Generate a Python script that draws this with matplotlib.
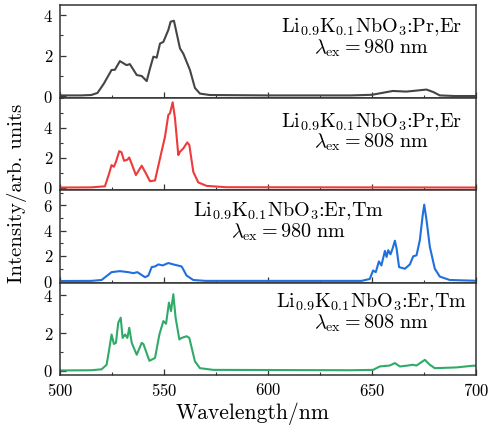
import numpy as np
import matplotlib.pyplot as plt
from matplotlib.ticker import MultipleLocator

# === Style (Computer Modern look) ===
plt.rcParams['font.family'] = 'serif'
plt.rcParams['font.serif'] = ['cmr10']
plt.rcParams['mathtext.fontset'] = 'cm'
plt.rcParams['axes.formatter.use_mathtext'] = True
plt.rcParams['axes.unicode_minus'] = False

# === Data ===
wl_pr_980 = [500, 510, 515, 518, 521, 524.8, 526.4, 528.8, 532, 533.6, 536.9, 539.3, 541.7,
             543.3, 544.9, 546.5, 548.1, 549.7, 552.1, 553.2, 554.8, 557.7, 559.3, 562.5,
             564.9, 567.3, 572, 600, 640, 650, 655.3, 660.1, 666.5, 669.7, 676.3, 679.5,
             682.7, 690, 700]
int_pr_980 = [0.03, 0.03, 0.05, 0.15, 0.6, 1.29, 1.3, 1.73, 1.53, 1.58, 1.04, 0.99, 0.74,
              1.37, 1.95, 1.9, 2.6, 2.68, 3.27, 3.68, 3.73, 2.36, 2.1, 1.29,
              0.4, 0.12, 0.05, 0.03, 0.03, 0.06, 0.16, 0.25, 0.22, 0.25, 0.32, 0.2,
              0.03, 0.0, 0.0]

wl_pr_808 = [500, 515, 521.6, 523.5, 524.8, 525.9, 526.9, 528.5, 529.6, 530.8, 532.4, 533.3,
             536.5, 539.3, 540.9, 543.3, 545.7, 548.1, 550.5, 552.1, 552.9, 554.2, 555.3,
             556.9, 557.7, 559.3, 561.2, 562.2, 564.1, 566.5, 570.5, 580, 700]
int_pr_808 = [0.02, 0.03, 0.1, 0.9, 1.51, 1.4, 1.73, 2.44, 2.36, 1.8, 1.87, 2.02,
              0.85, 1.47, 1.07, 0.44, 0.49, 1.96, 3.4, 4.85, 4.96, 5.69, 4.63,
              2.18, 2.4, 2.62, 3.02, 2.85, 1.07, 0.36, 0.13, 0.04, 0.02]

wl_tm_980 = [500, 515, 520, 524.8, 528.8, 532.8, 535.3, 537.2, 540.9, 542.5, 544.1, 545.7,
             547.3, 549.4, 552.1, 554.5, 558.5, 560.9, 564.1, 570, 645, 649, 650.6, 651.9,
             653.4, 654.6, 656.3, 657.1, 657.9, 659.0, 660.0, 661.1, 661.9, 663.1, 665.9,
             668.3, 669.9, 671.5, 673.1, 674.4, 675.2, 676.3, 677.9, 680.3, 682.7, 687.5,
             700]
int_tm_980 = [0.02, 0.03, 0.1, 0.72, 0.8, 0.72, 0.64, 0.72, 0.32, 0.45, 1.12, 1.17,
              1.33, 1.25, 1.44, 1.33, 1.17, 0.45, 0.1, 0.03, 0.03, 0.18, 0.85, 0.72,
              1.57, 1.25, 2.4, 1.92, 2.45, 2.13, 2.59, 3.2, 2.59, 1.12, 0.99,
              1.33, 1.97, 2.05, 3.25, 5.12, 6.05, 4.85, 2.72, 0.99, 0.37, 0.1,
              0.04]

wl_tm_808 = [500, 515, 520, 522.4, 523.5, 524.8, 525.9, 526.9, 528.0, 529.2, 530.1, 531.3,
             532.4, 533.3, 534.5, 536.9, 539.3, 540.1, 543.0, 545.7, 547.8, 549.7, 551.0,
             552.4, 553.4, 554.5, 555.6, 557.4, 558.5, 560.9, 562.2, 564.9, 567.3, 573.7,
             640, 650.6, 653.8, 658.6, 661.1, 663.5, 666.7, 669.6, 671.5, 675.5, 677.9,
             680.3, 690.7, 698.7, 700]
int_tm_808 = [0.02, 0.03, 0.08, 0.32, 1.03, 1.92, 1.42, 1.48, 2.54, 2.81, 1.74, 1.92,
              1.74, 2.28, 1.48, 0.85, 1.48, 1.42, 0.53, 0.68, 1.92, 2.63, 2.49,
              3.61, 3.16, 4.05, 2.81, 1.66, 1.74, 1.83, 1.74, 0.5, 0.14, 0.05,
              0.03, 0.05, 0.23, 0.28, 0.41, 0.23, 0.27, 0.32, 0.28, 0.58, 0.32,
              0.14, 0.18, 0.27, 0.27]

wavelengths = [wl_pr_980, wl_pr_808, wl_tm_980, wl_tm_808]
intensities = [int_pr_980, int_pr_808, int_tm_980, int_tm_808]
samples = [r"Li$_{0.9}$K$_{0.1}$NbO$_3$:Pr,Er", r"Li$_{0.9}$K$_{0.1}$NbO$_3$:Pr,Er",
           r"Li$_{0.9}$K$_{0.1}$NbO$_3$:Er,Tm", r"Li$_{0.9}$K$_{0.1}$NbO$_3$:Er,Tm"]
excitations = [r"$\lambda_{\rm ex} = 980\ {\rm nm}$", r"$\lambda_{\rm ex} = 808\ {\rm nm}$",
               r"$\lambda_{\rm ex} = 980\ {\rm nm}$", r"$\lambda_{\rm ex} = 808\ {\rm nm}$"]
colors = ['#454545', '#ee3a3a', '#1f6fdf', '#30aa68']
ylims = [(-0.08, 4.5), (-0.15, 6.0), (-0.1, 7.2), (-0.22, 4.67)]
text_x = [0.75, 0.75, 0.55, 0.749]
text_y = [(0.71, 0.48), (0.683, 0.455), (0.715, 0.49), (0.73, 0.50)]

# === Figure ===
fig, axes = plt.subplots(4, 1, figsize=(4.92, 4.32), dpi=100, sharex=True)
fig.subplots_adjust(left=0.122, right=0.967, top=0.988, bottom=0.132, hspace=0)

for i, ax in enumerate(axes):
    ax.plot(wavelengths[i], intensities[i], color=colors[i], lw=1.5,
            solid_joinstyle='round')
    ax.set_xlim(500, 700)
    ax.set_ylim(*ylims[i])
    ax.set_yticks([0, 2, 4] if i != 2 else [0, 2, 4, 6])
    ax.yaxis.set_minor_locator(MultipleLocator(1))
    ax.xaxis.set_major_locator(MultipleLocator(50))
    ax.xaxis.set_minor_locator(MultipleLocator(25))
    ax.tick_params(which='both', direction='in', labelsize=12, color='#333333')
    ax.tick_params(which='major', length=4.5, width=0.9, pad=5)
    ax.tick_params(which='minor', length=2.5, width=0.8)
    for sp in ax.spines.values():
        sp.set_linewidth(1.1)
        sp.set_color('#333333')
    ax.text(text_x[i], text_y[i][0], samples[i], transform=ax.transAxes,
            ha='center', va='baseline', fontsize=14.5)
    ax.text(text_x[i], text_y[i][1], excitations[i], transform=ax.transAxes,
            ha='center', va='baseline', fontsize=14.5)

fig.text(253 / 492, 1 - 414 / 432, "Wavelength/nm", ha='center', va='center', fontsize=15.5)
fig.text(17 / 492, 1 - 193 / 432, "Intensity/arb. units", ha='center', va='center',
         rotation=90, fontsize=15)

plt.savefig("out.png", dpi=100)
